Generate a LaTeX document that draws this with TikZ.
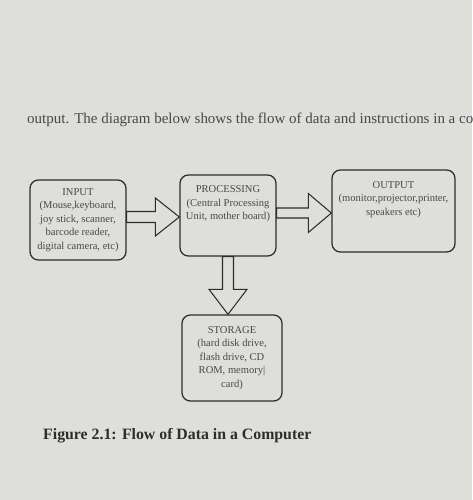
\documentclass[tikz,border=0pt]{standalone}
\usepackage{fontspec}
\setmainfont{Liberation Serif}
\usetikzlibrary{positioning,calc}
\definecolor{paper}{RGB}{222,222,219}
\definecolor{ink}{RGB}{45,45,45}
\definecolor{print}{RGB}{72,72,72}
\tikzset{
  blockbox/.style={rectangle,rounded corners=0.25cm,draw=ink,line width=1.1pt,fill=paper,inner sep=0pt},
  boxtext/.style={text=print,align=center,inner sep=0pt,font=\fontsize{9}{11.6}\selectfont},
  blockarrow/.style={draw=ink,line width=0.9pt,fill=paper,line join=miter}
}
\begin{document}
\begin{tikzpicture}[x=0.03cm,y=-0.03cm]
  % Page
  \fill[paper] (0,0) rectangle (472,500);
  \useasboundingbox (0,0) rectangle (472,500);

  % Running text
  \node[anchor=base west,text=print,inner sep=0pt,font=\fontsize{12.8}{15}\selectfont]
    (para) at (27,123) {output. The diagram below shows the flow of data and instructions in a co};

  % Boxes
  \node[blockbox,minimum width=2.88cm,minimum height=2.4cm]  (inp)   at (78,220)    {};
  \node[blockbox,minimum width=2.88cm,minimum height=2.43cm] (proc)  at (228,215.5) {};
  \node[blockbox,minimum width=3.69cm,minimum height=2.46cm] (out)   at (393.5,211) {};
  \node[blockbox,minimum width=3.0cm,minimum height=2.58cm]  (store) at (232,358)   {};

  % Box texts
  \node[boxtext] (inptext) at (inp)
    {INPUT\\(Mouse,keyboard,\\joy stick, scanner,\\barcode reader,\\digital camera, etc)};
  \node[boxtext,below=0.33cm of proc.north] (proctext)
    {PROCESSING\\(Central Processing\\Unit, mother board)};
  \node[boxtext,below=0.35cm of out.north] (outtext)
    {OUTPUT\\(monitor,projector,printer,\\speakers etc)};
  \node[boxtext] (storetext) at (store)
    {STORAGE\\(hard disk drive,\\flash drive, CD\\ROM, memory|\\card)};

  % Block arrows
  \coordinate (tipA) at ($(proc.west)+(0,1.5)$);
  \coordinate (tipB) at ($(out.west)+(0,2)$);
  \coordinate (tipC) at (proc.south |- store.north);
  \draw[blockarrow]
    ($(inp.east |- tipA)+(0,-5.5)$)
    -- ($(tipA)+(-24,-5.5)$) -- ++(0,-13.5)
    -- (tipA)
    -- ++(-24,19) -- ++(0,-13.5)
    -- ($(inp.east |- tipA)+(0,5.5)$) -- cycle;
  \draw[blockarrow]
    ($(proc.east |- tipB)+(0,-5)$)
    -- ($(tipB)+(-23,-5)$) -- ++(0,-14.5)
    -- (tipB)
    -- ++(-23,19.5) -- ++(0,-14.5)
    -- ($(proc.east |- tipB)+(0,5)$) -- cycle;
  \draw[blockarrow]
    ($(proc.south)+(-5.5,0)$)
    -- ($(tipC)+(-5.5,-25)$) -- ++(-13.5,0)
    -- (tipC)
    -- ++(19,-25) -- ++(-13.5,0)
    -- ($(proc.south)+(5.5,0)$) -- cycle;

  % Caption
  \node[anchor=base west,text=ink,inner sep=0pt,font=\bfseries\fontsize{13.5}{16}\selectfont]
    (caption) at (43,439) {Figure 2.1: Flow of Data in a Computer};
\end{tikzpicture}
\end{document}
